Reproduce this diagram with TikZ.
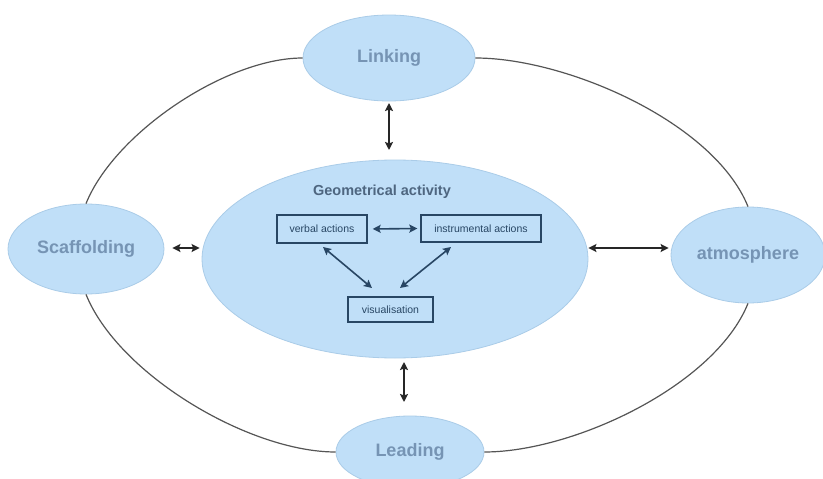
\documentclass[tikz,border=0pt]{standalone}
\usepackage{fontspec}
\setmainfont{Liberation Sans}
\usetikzlibrary{shapes.geometric,arrows.meta}
\definecolor{bubble}{RGB}{192,223,248}
\definecolor{bubbleedge}{RGB}{170,204,232}
\definecolor{outertext}{RGB}{118,148,180}
\definecolor{geotext}{RGB}{78,102,128}
\definecolor{boxcol}{RGB}{40,70,100}
\definecolor{ringcol}{RGB}{85,85,85}
\tikzset{
  bub/.style={ellipse, fill=bubble, draw=bubbleedge, line width=0.8pt, inner sep=0pt,
    font=\bfseries\fontsize{18}{20}\selectfont, text=outertext},
  actbox/.style={draw=boxcol, line width=1.3pt, inner sep=0pt, text=boxcol,
    font=\fontsize{10.5}{12}\selectfont},
  link2/.style={{Stealth[length=8pt,width=8pt,inset=1.5pt]}-{Stealth[length=8pt,width=8pt,inset=1.5pt]}, line width=1.6pt, black!85},
  inner2/.style={{Stealth[length=8pt,width=8pt,inset=1.5pt]}-{Stealth[length=8pt,width=8pt,inset=1.5pt]}, line width=1.6pt, boxcol},
  ring/.style={line width=1.2pt, ringcol}
}
\begin{document}
\begin{tikzpicture}[x=1pt,y=-1pt]
\useasboundingbox[fill=white] (0,0) rectangle (823,479);
\node[bub, minimum width=172pt, minimum height=86pt] (link) at (389,58) {Linking};
\node[bub, minimum width=156pt, minimum height=90pt] (scaf) at (86,249) {Scaffolding};
\node[bub, minimum width=154pt, minimum height=96pt] (atm) at (748,255) {atmosphere};
\node[bub, minimum width=148pt, minimum height=72pt] (lead) at (410,452) {Leading};
% ring curves
\draw[ring] (link.west) to[out=180, in=68, looseness=0.75] (scaf.north);
\draw[ring] (link.east) to[out=0, in=112, looseness=0.75] (atm.north);
\draw[ring] (scaf.south) to[out=-68, in=180, looseness=0.75] (lead.west);
\draw[ring] (lead.east) to[out=0, in=-112, looseness=0.75] (atm.south);
% central
\node[bub, minimum width=386pt, minimum height=198pt] (geo) at (395,259) {};
\node[font=\bfseries\fontsize{14.5}{16}\selectfont, text=geotext] (geolabel) at (382,192) {Geometrical activity};
\node[actbox, minimum width=90pt, minimum height=28pt] (verb) at (322,229) {verbal actions};
\node[actbox, minimum width=120pt, minimum height=27pt] (inst) at (481,228.5) {instrumental actions};
\node[actbox, minimum width=85pt, minimum height=25pt] (vis) at (390.5,309.5) {visualisation};
% inner arrows
\draw[inner2, shorten <=5pt, shorten >=3pt] (verb.east) -- (inst.west);
\coordinate (v1) at (323,247);
\coordinate (v2) at (372,288);
\coordinate (i1) at (451,247);
\coordinate (i2) at (400,288);
\draw[inner2] (v1) -- (v2);
\draw[inner2] (i1) -- (i2);
% outer arrows
\coordinate (lk1) at (389,103);
\coordinate (lk2) at (389,150);
\draw[link2] (lk1) -- (lk2);
\coordinate (ld1) at (404,362);
\coordinate (ld2) at (404,402);
\draw[link2] (ld1) -- (ld2);
\draw[link2, shorten <=8pt, shorten >=2pt] (scaf.east |- 0,248) -- (geo.west |- 0,248);
\draw[link2, shorten <=0pt, shorten >=2pt] (geo.east |- 0,248) -- (atm.west |- 0,248);
\end{tikzpicture}
\end{document}
